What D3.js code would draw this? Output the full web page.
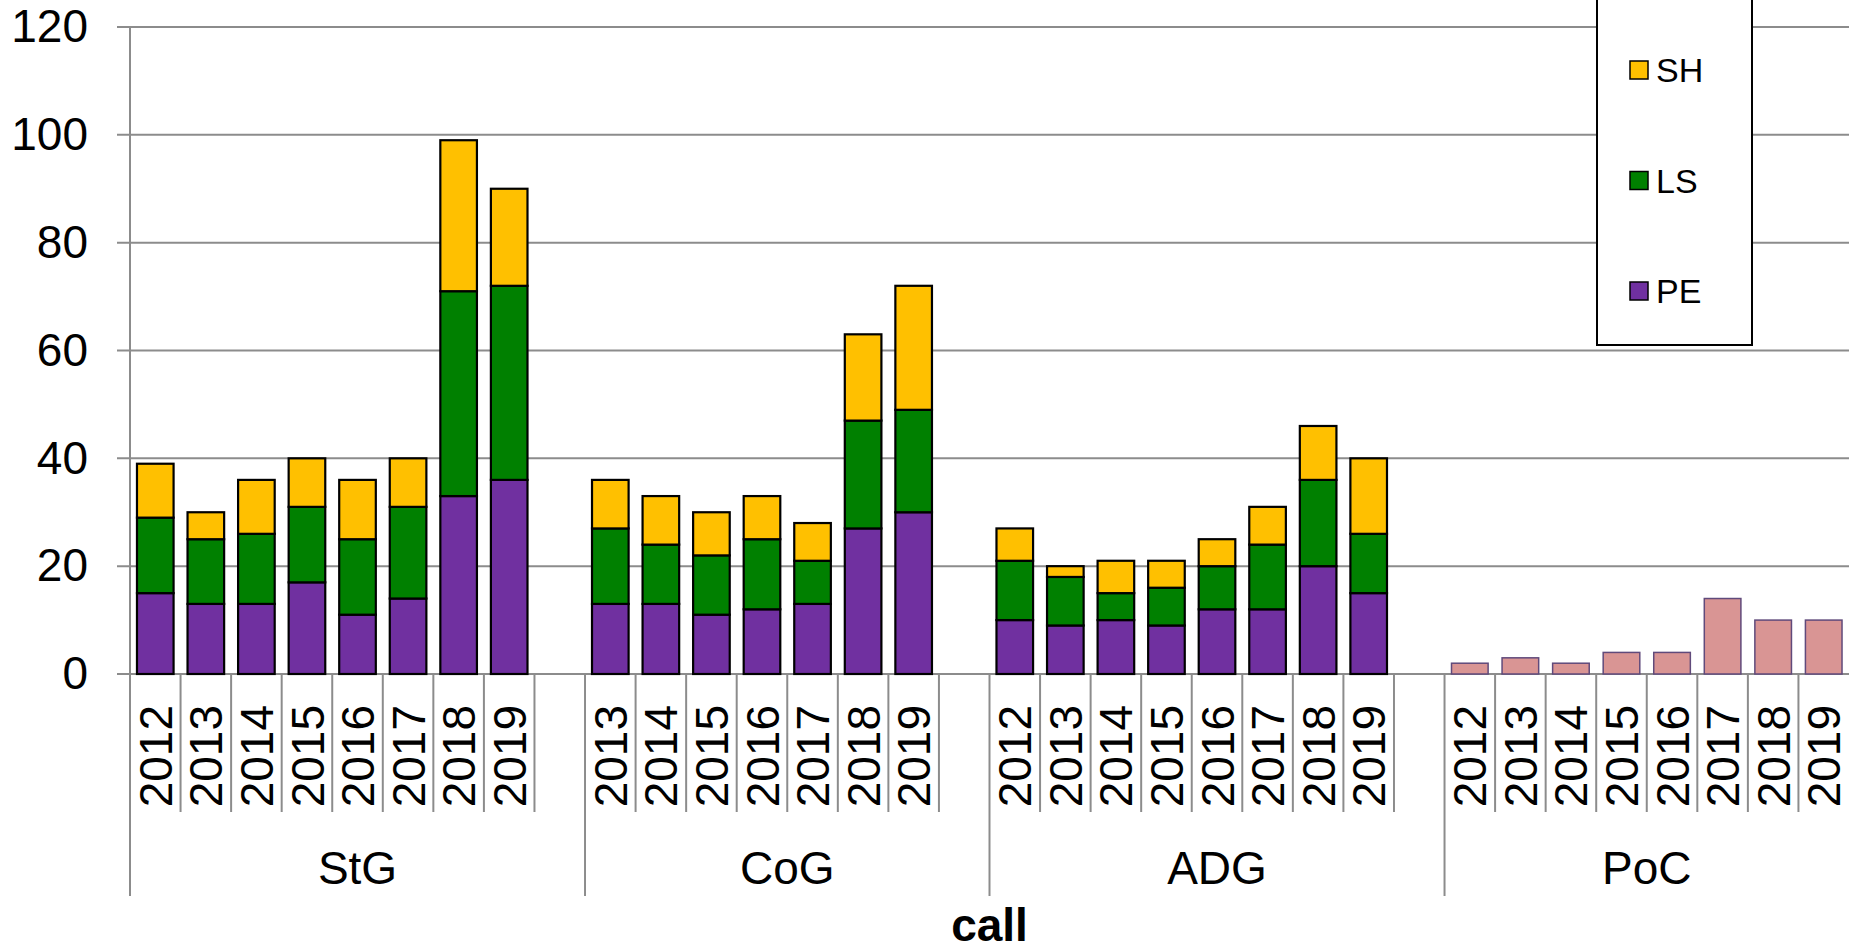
<!DOCTYPE html>
<html>
<head>
<meta charset="utf-8">
<script src="https://cdn.jsdelivr.net/npm/d3@7"></script>
<style>
  body { margin: 0; background: #fff; }
  svg { display: block; font-family: "Liberation Sans", Arial, sans-serif; }
</style>
</head>
<body>
<svg id="chart" width="1849" height="950"></svg>
<script>
// values
var groups = ["StG", "CoG", "ADG", "PoC"];

var stgYears = ["2012", "2013", "2014", "2015", "2016", "2017", "2018", "2019"];
var stgPE = [15, 13, 13, 17, 11, 14, 33, 36];
var stgLS = [14, 12, 13, 14, 14, 17, 38, 36];
var stgSH = [10, 5, 10, 9, 11, 9, 28, 18];

var cogYears = ["2013", "2014", "2015", "2016", "2017", "2018", "2019"];
var cogPE = [13, 13, 11, 12, 13, 27, 30];
var cogLS = [14, 11, 11, 13, 8, 20, 19];
var cogSH = [9, 9, 8, 8, 7, 16, 23];

var adgYears = ["2012", "2013", "2014", "2015", "2016", "2017", "2018", "2019"];
var adgPE = [10, 9, 10, 9, 12, 12, 20, 15];
var adgLS = [11, 9, 5, 7, 8, 12, 16, 11];
var adgSH = [6, 2, 6, 5, 5, 7, 10, 14];

var pocYears = ["2012", "2013", "2014", "2015", "2016", "2017", "2018", "2019"];
var pocTotal = [2, 3, 2, 4, 4, 14, 10, 10];

var yTicks = [0, 20, 40, 60, 80, 100, 120];
var keys = ["PE", "LS", "SH"];
var legendKeys = ["SH", "LS", "PE"];

var colors = { PE: "#7030a0", LS: "#008000", SH: "#ffc000" };
var pocColor = "#d99594";

// build rows / slots (each group but the last gets an empty slot after it)
var rows = [];
var slots = [];
function addGroup(name, years, pe, ls, sh, gap) {
    years.forEach(function(yr, i){
        var key = name + "-" + yr;
        slots.push({ key: key, group: name, year: yr });
        rows.push({ key: key, group: name, PE: pe[i], LS: ls[i], SH: sh[i] });
    });
    if (gap) slots.push({ key: name + "-gap", group: name, year: null });
}
addGroup("StG", stgYears, stgPE, stgLS, stgSH, true);
addGroup("CoG", cogYears, cogPE, cogLS, cogSH, true);
addGroup("ADG", adgYears, adgPE, adgLS, adgSH, true);

var pocRows = pocYears.map(function(yr, i){
    slots.push({ key: "PoC-" + yr, group: "PoC", year: yr });
    return { key: "PoC-" + yr, value: pocTotal[i] };
});

var svg = d3.select("#chart");

var margin = { left: 130, top: 27 };
var plotBottom = 674;

var x = d3.scaleBand()
    .domain(slots.map(function(d){ return d.key; }))
    .range([margin.left, 1849])
    .paddingInner(0.276)
    .paddingOuter(0.138);

var step = x.step();

var y = d3.scaleLinear().domain([0, 120]).range([plotBottom, margin.top]);

// gridlines
svg.append("g").selectAll("line")
    .data(yTicks)
    .enter().append("line")
    .attr("x1", margin.left - 13)
    .attr("x2", 1849)
    .attr("y1", function(d){ return y(d); })
    .attr("y2", function(d){ return y(d); })
    .attr("stroke", "#8c8c8c")
    .attr("stroke-width", 2);

// y axis
var yAxis = d3.axisLeft(y).tickValues(yTicks).tickSize(0).tickPadding(42);
var ya = svg.append("g").attr("transform", "translate(" + margin.left + ",0)").call(yAxis);
ya.select(".domain").remove();
ya.selectAll("text").attr("font-size", 46).attr("fill", "#000")
    .attr("font-family", "Liberation Sans, Arial, sans-serif");

svg.append("line")
    .attr("x1", margin.left).attr("x2", margin.left)
    .attr("y1", y(120)).attr("y2", 896)
    .attr("stroke", "#8c8c8c").attr("stroke-width", 2);

// x category ticks
var boundaries = [];
slots.forEach(function(s, i){
    if (i === 0) return;
    var prev = slots[i - 1];
    boundaries.push({ x: margin.left + i * step, sep: prev.group !== s.group });
});

svg.append("g").selectAll("line")
    .data(boundaries)
    .enter().append("line")
    .attr("x1", function(d){ return d.x; })
    .attr("x2", function(d){ return d.x; })
    .attr("y1", plotBottom)
    .attr("y2", function(d){ return d.sep ? 896 : 812; })
    .attr("stroke", "#8c8c8c")
    .attr("stroke-width", 2);

// stacked bars
var series = d3.stack().keys(keys)(rows);

svg.append("g").selectAll("g")
    .data(series)
    .enter().append("g")
    .attr("fill", function(d){ return colors[d.key]; })
    .selectAll("rect")
    .data(function(d){ return d; })
    .enter().append("rect")
    .attr("x", function(d){ return x(d.data.key); })
    .attr("width", x.bandwidth())
    .attr("y", function(d){ return y(d[1]); })
    .attr("height", function(d){ return y(d[0]) - y(d[1]); })
    .attr("stroke", "#000")
    .attr("stroke-width", 2.2);

// PoC bars
svg.append("g").selectAll("rect")
    .data(pocRows)
    .enter().append("rect")
    .attr("x", function(d){ return x(d.key); })
    .attr("width", x.bandwidth())
    .attr("y", function(d){ return y(d.value); })
    .attr("height", function(d){ return y(0) - y(d.value); })
    .attr("fill", pocColor)
    .attr("stroke", "#604a7b")
    .attr("stroke-width", 1.5);

// year labels
svg.append("g").selectAll("text")
    .data(slots.filter(function(s){ return s.year; }))
    .enter().append("text")
    .attr("transform", function(d){
        return "translate(" + (x(d.key) + x.bandwidth() / 2) + ",705) rotate(-90)";
    })
    .attr("text-anchor", "end")
    .attr("dy", "0.36em")
    .attr("font-size", 46)
    .text(function(d){ return d.year; });

// group labels
svg.append("g").selectAll("text")
    .data(groups)
    .enter().append("text")
    .attr("x", function(g){
        var ks = slots.filter(function(s){ return s.group === g; });
        var first = slots.indexOf(ks[0]);
        return margin.left + (first + ks.length / 2) * step;
    })
    .attr("y", 884)
    .attr("text-anchor", "middle")
    .attr("font-size", 46)
    .text(function(g){ return g; });

// axis title
svg.append("text")
    .attr("x", (margin.left + 1849) / 2)
    .attr("y", 941)
    .attr("text-anchor", "middle")
    .attr("font-size", 46)
    .attr("font-weight", "bold")
    .text("call");

// legend
var lg = svg.append("g");
lg.append("rect")
    .attr("x", 1597).attr("y", -10)
    .attr("width", 155).attr("height", 355)
    .attr("fill", "#fff")
    .attr("stroke", "#000")
    .attr("stroke-width", 2);

var ly = d3.scalePoint().domain(legendKeys).range([70, 291]);

var items = lg.selectAll("g.item")
    .data(legendKeys)
    .enter().append("g")
    .attr("class", "item")
    .attr("transform", function(d){ return "translate(1630," + ly(d) + ")"; });

items.append("rect")
    .attr("x", 0).attr("y", -9)
    .attr("width", 18).attr("height", 18)
    .attr("fill", function(d){ return colors[d]; })
    .attr("stroke", "#000")
    .attr("stroke-width", 1.5);

items.append("text")
    .attr("x", 26)
    .attr("dy", "0.36em")
    .attr("font-size", 34)
    .text(function(d){ return d; });
</script>
</body>
</html>
